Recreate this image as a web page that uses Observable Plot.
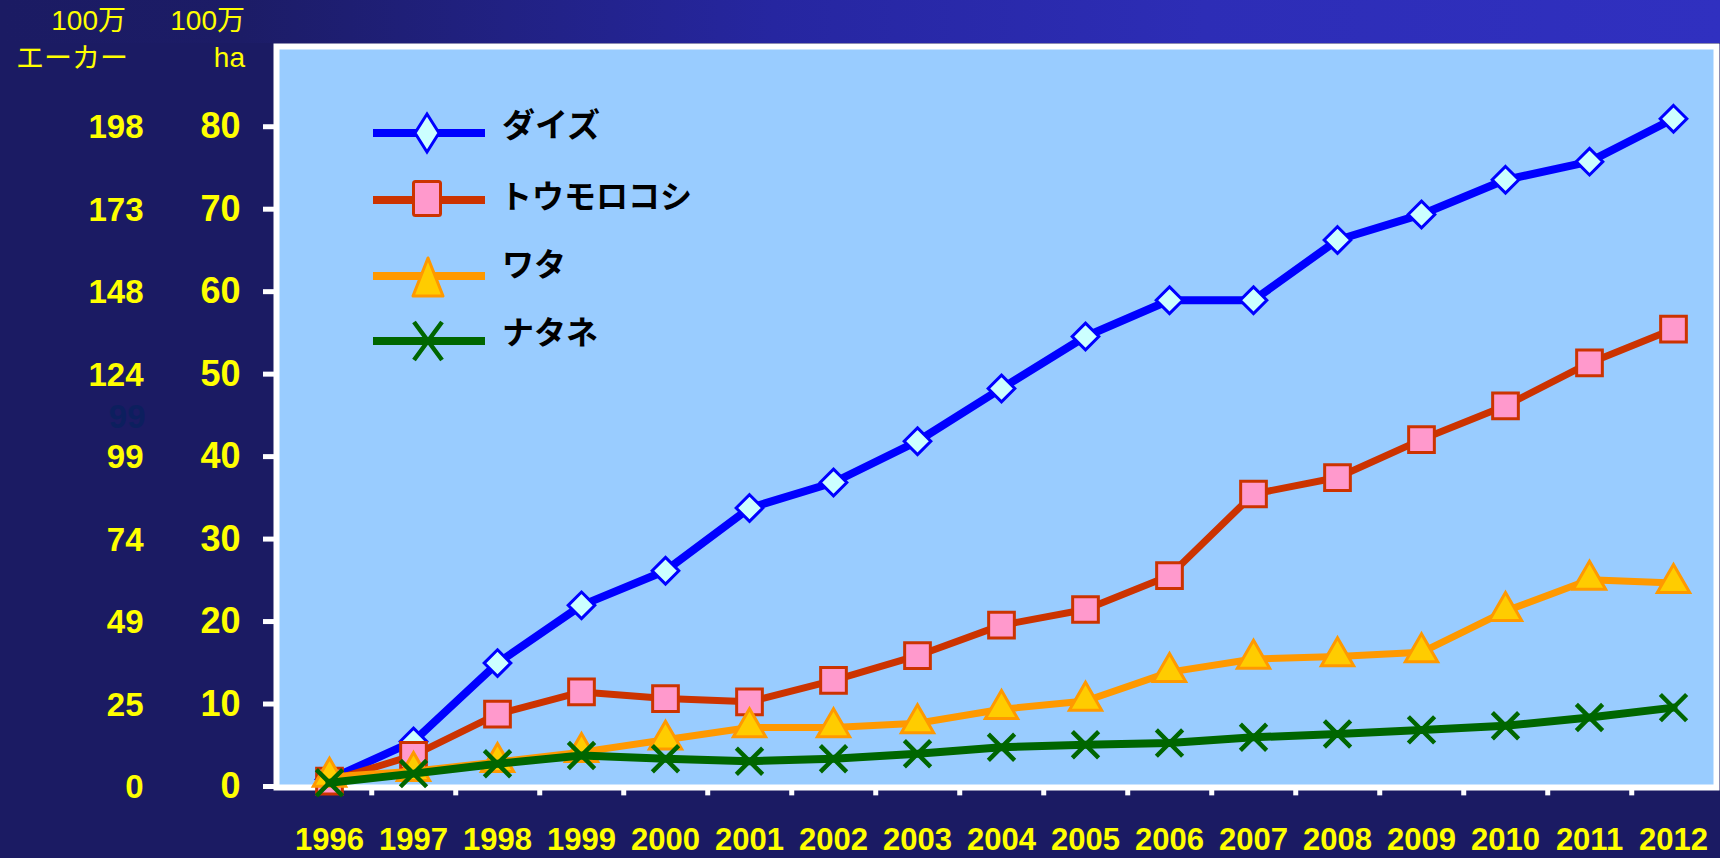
<!DOCTYPE html>
<html>
<head>
<meta charset="utf-8">
<script src="https://cdn.jsdelivr.net/npm/d3@7"></script>
<script src="https://cdn.jsdelivr.net/npm/@observablehq/plot@0.6"></script>
<style>
  html, body { margin: 0; padding: 0; background: #1b1b63; }
  #wrap { position: relative; width: 1720px; height: 858px; background: #1b1b63; overflow: hidden; }
  #band { position: absolute; left: 0; top: 0; width: 1720px; height: 43px;
    background: linear-gradient(to right, #1b1b63 0%, #1c1c66 14%, #2626a0 45%, #2d2db6 70%, #3030c0 100%); }
  #chart { position: absolute; left: 0; top: 0; }
  #overlay { position: absolute; left: 0; top: 0; }
</style>
</head>
<body>
<div id="wrap">
  <div id="band"></div>
  <div id="chart"></div>
  <svg id="overlay" width="1720" height="858"></svg>
</div>
<script>
// ---- data (million ha) ----
const years = [1996, 1997, 1998, 1999, 2000, 2001, 2002, 2003, 2004, 2005, 2006, 2007, 2008, 2009, 2010, 2011, 2012];
const soybean = [0.5, 5.1, 14.6, 21.6, 25.8, 33.4, 36.5, 41.5, 47.9, 54.2, 58.6, 58.6, 65.9, 69.0, 73.2, 75.4, 80.6];
const maize   = [0.3, 3.4, 8.4, 11.1, 10.3, 9.9, 12.5, 15.5, 19.2, 21.1, 25.2, 35.1, 37.1, 41.7, 45.8, 51.0, 55.1];
const cotton  = [0.8, 1.5, 2.6, 3.8, 5.3, 6.8, 6.8, 7.3, 9.0, 10.0, 13.5, 15.1, 15.4, 15.9, 20.9, 24.7, 24.3];
const canola  = [0.1, 1.2, 2.4, 3.4, 3.0, 2.7, 3.0, 3.6, 4.4, 4.7, 4.9, 5.6, 6.0, 6.5, 7.0, 8.0, 9.2];
const seriesNames = ["ダイズ", "トウモロコシ", "ワタ", "ナタネ"];
const haTicks = [0, 10, 20, 30, 40, 50, 60, 70, 80];
const acreTicks = ["0", "25", "49", "74", "99", "124", "148", "173", "198"];
const ghostLabel = ["99"];
const ghostY = [44.4];

const YEL = "#ffff00";
const NUMFONT = "'Liberation Sans', Arial, sans-serif";
const xRange = [283, 1719];
const halfStep = (xRange[1] - xRange[0]) / years.length / 2;

const series = [
  {vals: soybean, line: "#0000ff", lw: 8, symbol: "diamond2", r: 12, fill: "#ccffff", stroke: "#0000ff", sw: 3},
  {vals: maize, line: "#cc3300", lw: 7, symbol: "square", r: 14.5, fill: "#ff99cc", stroke: "#cc3300", sw: 3},
  {vals: cotton, line: "#ff9900", lw: 7, symbol: "triangle", r: 12, fill: "#ffcc00", stroke: "#ff9900", sw: 3},
  {vals: canola, line: "#006600", lw: 8, symbol: "times", r: 12, fill: "none", stroke: "#006600", sw: 4.5}
];

const marks = [
  Plot.frame({fill: "#99ccff", stroke: "white", strokeWidth: 6}),
  Plot.axisY(haTicks, {tickSize: 13, tickPadding: 23, stroke: "white", strokeWidth: 5,
    fill: YEL, fontSize: 36, fontWeight: "bold", fontFamily: NUMFONT, label: null, dy: 3}),
  Plot.text(acreTicks, {y: (d, i) => haTicks[i], text: d => d, frameAnchor: "left", textAnchor: "end",
    dx: -133, dy: 4, fill: YEL, fontSize: 33, fontWeight: "bold", fontFamily: NUMFONT}),
  Plot.text(ghostLabel, {y: (d, i) => ghostY[i], text: d => d, frameAnchor: "left", textAnchor: "end",
    dx: -131, fill: "#0c1f5e", fontSize: 33, fontWeight: "bold", fontFamily: NUMFONT}),
  Plot.axisX(years, {tickSize: 0, tickPadding: 40, fill: YEL, fontSize: 31, fontWeight: "bold",
    fontFamily: NUMFONT, label: null, tickFormat: d => String(d)}),
  Plot.ruleX(years.slice(0, -1), {x: d => d, dx: halfStep, y1: -0.85, y2: -1.5, stroke: "white", strokeWidth: 5})
];
for (const s of series) {
  marks.push(Plot.line(s.vals, {x: (d, i) => years[i], y: d => d, stroke: s.line, strokeWidth: s.lw, strokeLinejoin: "miter"}));
  marks.push(Plot.dot(s.vals, {x: (d, i) => years[i], y: d => d, symbol: s.symbol, r: s.r,
    fill: s.fill, stroke: s.stroke, strokeWidth: s.sw}));
}

const chart = Plot.plot({
  width: 1720, height: 858,
  marginLeft: 276, marginRight: 4, marginTop: 46, marginBottom: 71,
  style: {background: "transparent", overflow: "visible"},
  x: {type: "point", domain: years, range: xRange},
  y: {domain: [0, 89], range: [783, 49]},
  marks
});
document.getElementById("chart").appendChild(chart);

// ---- axis titles and legend overlay ----
const ov = d3.select("#overlay");
const hdrFont = "'Liberation Sans', 'Noto Sans CJK JP', sans-serif";
const hdr = [
  {t: "100万", x: 126, y: 30}, {t: "エーカー", x: 128, y: 68},
  {t: "100万", x: 245, y: 30}, {t: "ha", x: 245, y: 67}
];
ov.selectAll("text.hdr").data(hdr).join("text").attr("class", "hdr")
  .attr("x", d => d.x).attr("y", d => d.y).attr("text-anchor", "end")
  .attr("fill", YEL).attr("font-size", 28).attr("font-family", hdrFont).text(d => d.t);

const lg = ov.append("g");
const rows = [{y: 133, ty: 137}, {y: 200, ty: 208}, {y: 276, ty: 276}, {y: 341, ty: 344}];
rows.forEach((r, i) => {
  const s = series[i];
  lg.append("line").attr("x1", 373).attr("x2", 485).attr("y1", r.y).attr("y2", r.y)
    .attr("stroke", s.line).attr("stroke-width", 8);
  if (i === 0) {
    lg.append("polygon").attr("points", "427,114 439,133 427,152 415,133")
      .attr("fill", s.fill).attr("stroke", s.stroke).attr("stroke-width", 3);
  } else if (i === 1) {
    lg.append("rect").attr("x", 413.5).attr("y", 181.5).attr("width", 27).attr("height", 34).attr("rx", 2)
      .attr("fill", s.fill).attr("stroke", s.stroke).attr("stroke-width", 3);
  } else if (i === 2) {
    lg.append("polygon").attr("points", "428,258 443,296 413,296")
      .attr("fill", s.fill).attr("stroke", s.stroke).attr("stroke-width", 3).attr("stroke-linejoin", "round");
  } else {
    lg.append("path").attr("d", "M414,322L442,360M442,322L414,360")
      .attr("stroke", s.stroke).attr("stroke-width", 4.5).attr("fill", "none");
  }
  lg.append("text").attr("x", i === 1 ? 500 : 502).attr("y", r.ty)
    .attr("font-size", i === 0 ? 33 : 32).attr("font-weight", "bold").attr("fill", "#000")
    .attr("font-family", "'Noto Sans CJK JP', sans-serif").text(seriesNames[i]);
});
</script>
</body>
</html>
